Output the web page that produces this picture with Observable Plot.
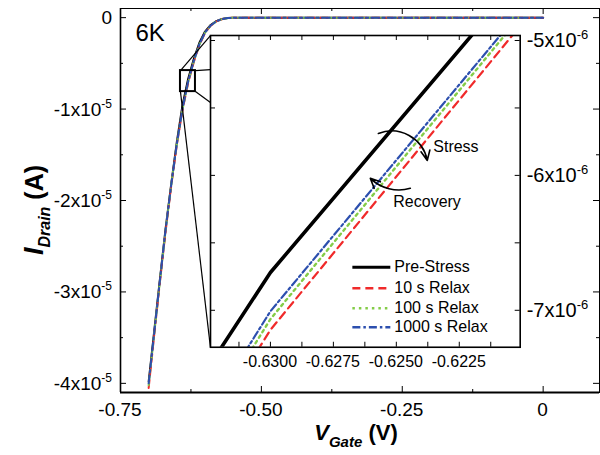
<!DOCTYPE html>
<html><head><meta charset="utf-8">
<script src="https://cdn.jsdelivr.net/npm/d3@7"></script>
<script src="https://cdn.jsdelivr.net/npm/@observablehq/plot@0.6"></script>
<style>
body{margin:0;background:#fff;}
#wrap{position:relative;width:600px;height:455px;font-family:Arial,"Liberation Sans",sans-serif;}
#wrap svg{position:absolute;overflow:visible;}
</style></head><body><div id="wrap"></div>
<script>
// ---------- data (current in units of 1e-5 A) ----------
const vGate     = [-0.70,-0.69,-0.68,-0.67,-0.66,-0.65,-0.64,-0.63,-0.62,-0.61,-0.60,-0.59,-0.58,-0.57,-0.56,-0.55,-0.50,-0.40,-0.30,-0.20,-0.10,0];
const preStress = [-3.98,-3.42,-2.86,-2.31,-1.82,-1.36,-0.957,-0.672,-0.452,-0.275,-0.152,-0.080,-0.038,-0.015,-0.005,-0.001,0,0,0,0,0,0];
const relax10   = [-4.05,-3.46,-2.89,-2.34,-1.84,-1.39,-1.013,-0.7145,-0.4873,-0.300,-0.168,-0.088,-0.042,-0.017,-0.006,-0.001,0,0,0,0,0,0];
const relax100  = [-4.02,-3.45,-2.88,-2.33,-1.83,-1.38,-1.009,-0.7065,-0.4805,-0.296,-0.165,-0.087,-0.041,-0.016,-0.006,-0.001,0,0,0,0,0,0];
const relax1000 = [-4.00,-3.44,-2.87,-2.32,-1.83,-1.38,-1.000,-0.7007,-0.4767,-0.292,-0.163,-0.086,-0.040,-0.016,-0.005,-0.001,0,0,0,0,0,0];

const seriesNames  = ["Pre-Stress","10 s Relax","100 s Relax","1000 s Relax"];
const seriesValues = [preStress, relax10, relax100, relax1000];
const seriesColors = ["#000000","#f02a2a","#84cc48","#2c4fae"];
const seriesDash   = [null,"8,5","2.5,4","8,3,2.5,3"];

// main axes ticks
const xMajor = [-0.75,-0.5,-0.25,0];
const xMinor = [-0.625,-0.375,-0.125];
const yMajor = [0,-1e-5,-2e-5,-3e-5,-4e-5];
const yMinor = [-0.5e-5,-1.5e-5,-2.5e-5,-3.5e-5];
// inset ticks
const insetXLabels = [-0.63,-0.6275,-0.625,-0.6225];
const insetXTicks  = [-0.63125,-0.63,-0.62875,-0.6275,-0.62625,-0.625,-0.62375,-0.6225,-0.62125];
const insetYLabels = [-5e-6,-6e-6,-7e-6];
const insetYTicks  = [-5e-6,-5.5e-6,-6e-6,-6.5e-6,-7e-6];

// zoom box & inset location in main-plot data units
const zoomBox  = {x1:-0.6436, x2:-0.6170, y1:-0.809e-5, y2:-0.579e-5};
const insetBox = {x1:-0.5904, x2:-0.0408, y1:-3.607e-5, y2:-0.197e-5};
const connectors = [
  {x1:zoomBox.x1, y1:zoomBox.y2, x2:insetBox.x1, y2:insetBox.y2},
  {x1:zoomBox.x2, y1:zoomBox.y2, x2:insetBox.x1, y2:-0.568e-5},
  {x1:zoomBox.x2, y1:zoomBox.y1, x2:insetBox.x1, y2:-0.929e-5},
  {x1:zoomBox.x1, y1:zoomBox.y1, x2:insetBox.x1, y2:insetBox.y1}
];
const insetXDomain = [-0.63238,-0.62008];
const insetYDomain = [-7.274e-6,-4.963e-6];

// legend & annotations (inset data units)
const legendX = {x1:-0.626746, x2:-0.625238, text:-0.625079};
const legendY = [-6.681e-6,-6.837e-6,-6.985e-6,-7.126e-6];
const notes = [
  {label:"Stress",   x:-0.623532, y:-5.785e-6},
  {label:"Recovery", x:-0.625119, y:-6.193e-6}
];
const stressArrow   = {x1:-0.625714, y1:-5.689e-6, x2:-0.623770, y2:-5.889e-6};
const recoveryArrow = {x1:-0.624444, y1:-6.096e-6, x2:-0.626032, y2:-6.022e-6};

const rows = [];
seriesNames.forEach((s,i)=>vGate.forEach((v,j)=>rows.push({s, v, I: seriesValues[i][j]*1e-5})));

const FONT = "Arial, 'Liberation Sans', sans-serif";
const W=600, H=455, mL=120, mR=1, mT=8, mB=63;
const plotH = H-mT-mB, plotW = W-mL-mR;

function seriesLines(widths, clip){
  return seriesNames.map((s,i)=>Plot.line(rows.filter(r=>r.s===s), {
    x:"v", y:"I", stroke: seriesColors[i], strokeDasharray: seriesDash[i],
    strokeWidth: widths[i], clip
  }));
}

const main = Plot.plot({
  width: W, height: H, marginLeft: mL, marginRight: mR, marginTop: mT, marginBottom: mB,
  style: {background:"transparent", fontFamily: FONT, overflow:"visible"},
  x: {domain:[-0.75,0.1], axis:null},
  y: {domain:[-4.1e-5,1e-6], axis:null},
  marks: [
    ...seriesLines([2,2,2,2], false),
    Plot.link(connectors, {x1:"x1", y1:"y1", x2:"x2", y2:"y2", stroke:"black", strokeWidth:1.2}),
    Plot.rect([zoomBox], {x1:"x1", x2:"x2", y1:"y1", y2:"y2", stroke:"black", strokeWidth:2, fill:"none"}),
    Plot.tickX(xMajor, {x:d=>d, insetTop: plotH-6, stroke:"black", strokeWidth:1}),
    Plot.tickX(xMinor, {x:d=>d, insetTop: plotH-3, stroke:"black", strokeWidth:1}),
    Plot.tickX(xMajor, {x:d=>d, insetBottom: plotH-6, stroke:"black", strokeWidth:1}),
    Plot.tickX(xMinor, {x:d=>d, insetBottom: plotH-3, stroke:"black", strokeWidth:1}),
    Plot.tickY(yMajor, {y:d=>d, insetRight: plotW-6, stroke:"black", strokeWidth:1}),
    Plot.tickY(yMinor, {y:d=>d, insetRight: plotW-3, stroke:"black", strokeWidth:1}),
    Plot.tickY(yMajor, {y:d=>d, insetLeft: plotW-6, stroke:"black", strokeWidth:1}),
    Plot.tickY(yMinor, {y:d=>d, insetLeft: plotW-3, stroke:"black", strokeWidth:1}),
    Plot.frame({stroke:"black", strokeWidth:1}),
    Plot.ruleX([-0.75], {stroke:"black", strokeWidth:1.6}),
    Plot.ruleY([-4.1e-5], {stroke:"black", strokeWidth:1.8}),
    Plot.text(["6K"], {x:-0.7234, y:-0.175e-5, text:d=>d, textAnchor:"start", fontSize:24, fill:"black"})
  ]
});
document.getElementById("wrap").appendChild(main);
main.style.left="0px"; main.style.top="0px";

const xs = main.scale("x"), ys = main.scale("y");
const g = d3.select(main).append("g").attr("font-family", FONT).attr("fill","black");

// x tick labels
g.selectAll(".xl").data(xMajor).join("text")
  .attr("x", d=>xs.apply(d)).attr("y", H-mB+24).attr("text-anchor","middle").attr("font-size",19)
  .text(d=> d===0 ? "0" : d.toFixed(2));
// y tick labels with superscript
yMajor.forEach(v=>{
  const t = g.append("text").attr("x", mL-8).attr("y", ys.apply(v)+7).attr("text-anchor","end").attr("font-size",19);
  if (v===0) { t.text("0"); return; }
  t.append("tspan").text(Math.round(v/1e-5)+"x10");
  t.append("tspan").attr("dy",-8).attr("font-size",12).text("-5");
});
// axis titles
const xt = g.append("text").attr("x", 356).attr("y", 440).attr("text-anchor","middle")
  .attr("font-weight","bold").attr("font-size",22);
xt.append("tspan").attr("font-style","italic").text("V");
xt.append("tspan").attr("font-style","italic").attr("font-size",15).attr("dy",7).text("Gate");
xt.append("tspan").attr("dy",-7).text(" (V)");
const yt = g.append("text").attr("transform","translate(43,210) rotate(-90)").attr("text-anchor","middle")
  .attr("font-weight","bold").attr("font-size",25);
yt.append("tspan").attr("font-style","italic").attr("font-size",27).text("I");
yt.append("tspan").attr("font-style","italic").attr("font-size",16).attr("dy",7).text("Drain");
yt.append("tspan").attr("dy",-7).text(" (A)");

// ---------- inset ----------
const iL = xs.apply(insetBox.x1), iR = xs.apply(insetBox.x2);
const iT = ys.apply(insetBox.y2), iB = ys.apply(insetBox.y1);
const imL=2, imR=80, imT=2, imB=32;
const fW = iR-iL, fH = iB-iT;

const legendMarks = seriesNames.flatMap((s,i)=>[
  Plot.link([{y:legendY[i]}], {x1:()=>legendX.x1, x2:()=>legendX.x2, y1:"y", y2:"y",
    stroke:seriesColors[i], strokeDasharray:seriesDash[i], strokeWidth: i===0?3:2.4}),
  Plot.text([{s, y:legendY[i]}], {x:()=>legendX.text, y:"y", text:"s", textAnchor:"start", fontSize:16, fill:"black"})
]);

const inset = Plot.plot({
  width: fW+imL+imR, height: fH+imT+imB, marginLeft: imL, marginRight: imR, marginTop: imT, marginBottom: imB,
  style: {background:"transparent", fontFamily: FONT, overflow:"visible"},
  x: {domain: insetXDomain, axis:null},
  y: {domain: insetYDomain, axis:null},
  marks: [
    Plot.frame({fill:"white", stroke:null}),
    ...seriesLines([3.6,2.2,2.4,2.2], true),
    Plot.tickX(insetXTicks, {x:d=>d, insetTop: fH-5, stroke:"black", strokeWidth:1}),
    Plot.tickX(insetXTicks, {x:d=>d, insetBottom: fH-5, stroke:"black", strokeWidth:1}),
    Plot.tickY(insetYTicks, {y:d=>d, insetRight: fW-5, stroke:"black", strokeWidth:1}),
    Plot.tickY(insetYTicks, {y:d=>d, insetLeft: fW-5, stroke:"black", strokeWidth:1}),
    Plot.frame({stroke:"black", strokeWidth:1.6}),
    ...legendMarks,
    Plot.text(notes, {x:"x", y:"y", text:"label", textAnchor:"start", fontSize:16, fill:"black"}),
    Plot.arrow([stressArrow], {x1:"x1", y1:"y1", x2:"x2", y2:"y2", bend:50, stroke:"black", strokeWidth:1.6, headLength:10, headAngle:50}),
    Plot.arrow([recoveryArrow], {x1:"x1", y1:"y1", x2:"x2", y2:"y2", bend:30, stroke:"black", strokeWidth:1.6, headLength:10, headAngle:50})
  ]
});
document.getElementById("wrap").appendChild(inset);
inset.style.left = (iL-imL)+"px"; inset.style.top = (iT-imT)+"px";
const ixs = inset.scale("x"), iys = inset.scale("y");
const ig = d3.select(inset).append("g").attr("font-family", FONT).attr("fill","black");
ig.selectAll(".xl").data(insetXLabels).join("text")
  .attr("x", d=>ixs.apply(d)).attr("y", imT+fH+20).attr("text-anchor","middle").attr("font-size",16)
  .text(d=>d.toFixed(4));
insetYLabels.forEach(v=>{
  const t = ig.append("text").attr("x", imL+fW+7).attr("y", iys.apply(v)+7).attr("text-anchor","start").attr("font-size",20);
  t.append("tspan").text(Math.round(v/1e-6)+"x10");
  t.append("tspan").attr("dy",-8).attr("font-size",13).text("-6");
});
</script></body></html>
